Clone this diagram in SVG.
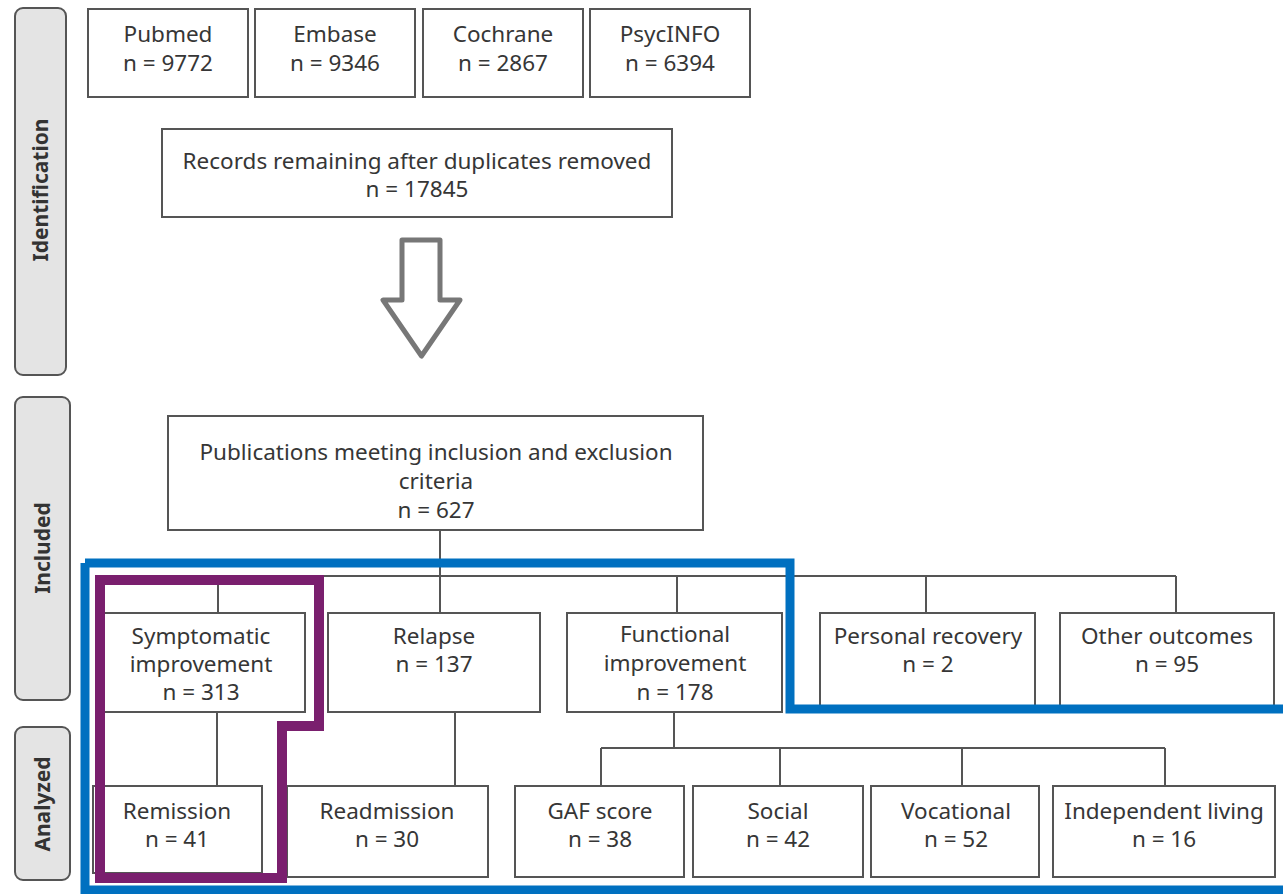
<svg xmlns="http://www.w3.org/2000/svg" width="1283" height="894" viewBox="0 0 1283 894">
<style>
  .box { fill: #ffffff; stroke: #555555; stroke-width: 2; }
  .side { fill: #e4e4e4; stroke: #555555; stroke-width: 2; }
  .t { font-family: "Noto Sans", "Liberation Sans", sans-serif; font-size: 22.5px; fill: #363636; text-anchor: middle; }
  .st { font-family: "Noto Sans", "Liberation Sans", sans-serif; font-size: 21px; font-weight: bold; fill: #333333; text-anchor: middle; }
  .link { fill: none; stroke: #555555; stroke-width: 2; }
</style>
<rect width="1283" height="894" fill="#ffffff"/>

<!-- phase labels -->
<g id="phase-identification">
  <rect class="side" x="15" y="8" width="51" height="367" rx="8"/>
  <text class="st" transform="translate(48,190) rotate(-90)">Identification</text>
</g>
<g id="phase-included">
  <rect class="side" x="15" y="397" width="55" height="303" rx="8"/>
  <text class="st" transform="translate(50,548) rotate(-90)">Included</text>
</g>
<g id="phase-analyzed">
  <rect class="side" x="15" y="727" width="55" height="153" rx="8"/>
  <text class="st" transform="translate(50,804) rotate(-90)">Analyzed</text>
</g>

<!-- connectors -->
<g id="connectors">
  <path class="link" d="M440 530 V576 M218 576 H1176 M218 576 V613 M440 576 V613 M677 576 V613 M926 576 V613 M1176 576 V613"/>
  <path class="link" d="M217 712 V786 M455 712 V786"/>
  <path class="link" d="M674 712 V748 M601 748 H1165 M601 748 V786 M780 748 V786 M962 748 V786 M1165 748 V786"/>
  <path d="M402 240 H440 V300 H460 L421.5 356 L383 300 H402 Z" fill="none" stroke="#777777" stroke-width="5" stroke-linejoin="round"/>
</g>

<!-- sources -->
<g id="pubmed">
  <rect class="box" x="88" y="9" width="160" height="88"/>
  <text class="t" x="168" y="42">Pubmed</text>
  <text class="t" x="168" y="71">n = 9772</text>
</g>
<g id="embase">
  <rect class="box" x="255" y="9" width="160" height="88"/>
  <text class="t" x="335" y="42">Embase</text>
  <text class="t" x="335" y="71">n = 9346</text>
</g>
<g id="cochrane">
  <rect class="box" x="423" y="9" width="160" height="88"/>
  <text class="t" x="503" y="42">Cochrane</text>
  <text class="t" x="503" y="71">n = 2867</text>
</g>
<g id="psycinfo">
  <rect class="box" x="590" y="9" width="160" height="88"/>
  <text class="t" x="670" y="42">PsycINFO</text>
  <text class="t" x="670" y="71">n = 6394</text>
</g>

<g id="records">
  <rect class="box" x="162" y="129" width="510" height="88"/>
  <text class="t" x="417" y="169">Records remaining after duplicates removed</text>
  <text class="t" x="417" y="197">n = 17845</text>
</g>

<g id="publications">
  <rect class="box" x="168" y="416" width="535" height="114"/>
  <text class="t" x="436" y="460">Publications meeting inclusion and exclusion</text>
  <text class="t" x="436" y="489">criteria</text>
  <text class="t" x="436" y="518">n = 627</text>
</g>

<!-- outcome categories -->
<g id="symptomatic">
  <rect class="box" x="97" y="613" width="208" height="99"/>
  <text class="t" x="201" y="644">Symptomatic</text>
  <text class="t" x="201" y="672">improvement</text>
  <text class="t" x="201" y="700">n = 313</text>
</g>
<g id="relapse">
  <rect class="box" x="328" y="613" width="212" height="99"/>
  <text class="t" x="434" y="644">Relapse</text>
  <text class="t" x="434" y="672">n = 137</text>
</g>
<g id="functional">
  <rect class="box" x="567" y="613" width="215" height="99"/>
  <text class="t" x="675" y="642">Functional</text>
  <text class="t" x="675" y="671">improvement</text>
  <text class="t" x="675" y="700">n = 178</text>
</g>
<g id="personal">
  <rect class="box" x="820" y="613" width="215" height="95"/>
  <text class="t" x="928" y="644">Personal recovery</text>
  <text class="t" x="928" y="672">n = 2</text>
</g>
<g id="other">
  <rect class="box" x="1060" y="613" width="214" height="95"/>
  <text class="t" x="1167" y="644">Other outcomes</text>
  <text class="t" x="1167" y="672">n = 95</text>
</g>

<!-- analyzed outcomes -->
<g id="remission">
  <rect class="box" x="93" y="786" width="169" height="87"/>
  <text class="t" x="177" y="819">Remission</text>
  <text class="t" x="177" y="847">n = 41</text>
</g>
<g id="readmission">
  <rect class="box" x="287" y="786" width="201" height="91"/>
  <text class="t" x="387" y="819">Readmission</text>
  <text class="t" x="387" y="847">n = 30</text>
</g>
<g id="gaf">
  <rect class="box" x="515" y="786" width="169" height="91"/>
  <text class="t" x="600" y="819">GAF score</text>
  <text class="t" x="600" y="847">n = 38</text>
</g>
<g id="social">
  <rect class="box" x="693" y="786" width="170" height="91"/>
  <text class="t" x="778" y="819">Social</text>
  <text class="t" x="778" y="847">n = 42</text>
</g>
<g id="vocational">
  <rect class="box" x="871" y="786" width="168" height="91"/>
  <text class="t" x="956" y="819">Vocational</text>
  <text class="t" x="956" y="847">n = 52</text>
</g>
<g id="independent">
  <rect class="box" x="1053" y="786" width="222" height="91"/>
  <text class="t" x="1164" y="819">Independent living</text>
  <text class="t" x="1164" y="847">n = 16</text>
</g>

<!-- highlight outlines -->
<g id="highlights" fill="none" stroke-linejoin="miter">
  <path d="M85 563 H790 V709 H1283 M85 563 V890 H1283" stroke="#0070c0" stroke-width="9"/>
  <path d="M100 580 H319 V726 H282 V878 H100 Z" stroke="#7a1f6e" stroke-width="10"/>
</g>
</svg>
